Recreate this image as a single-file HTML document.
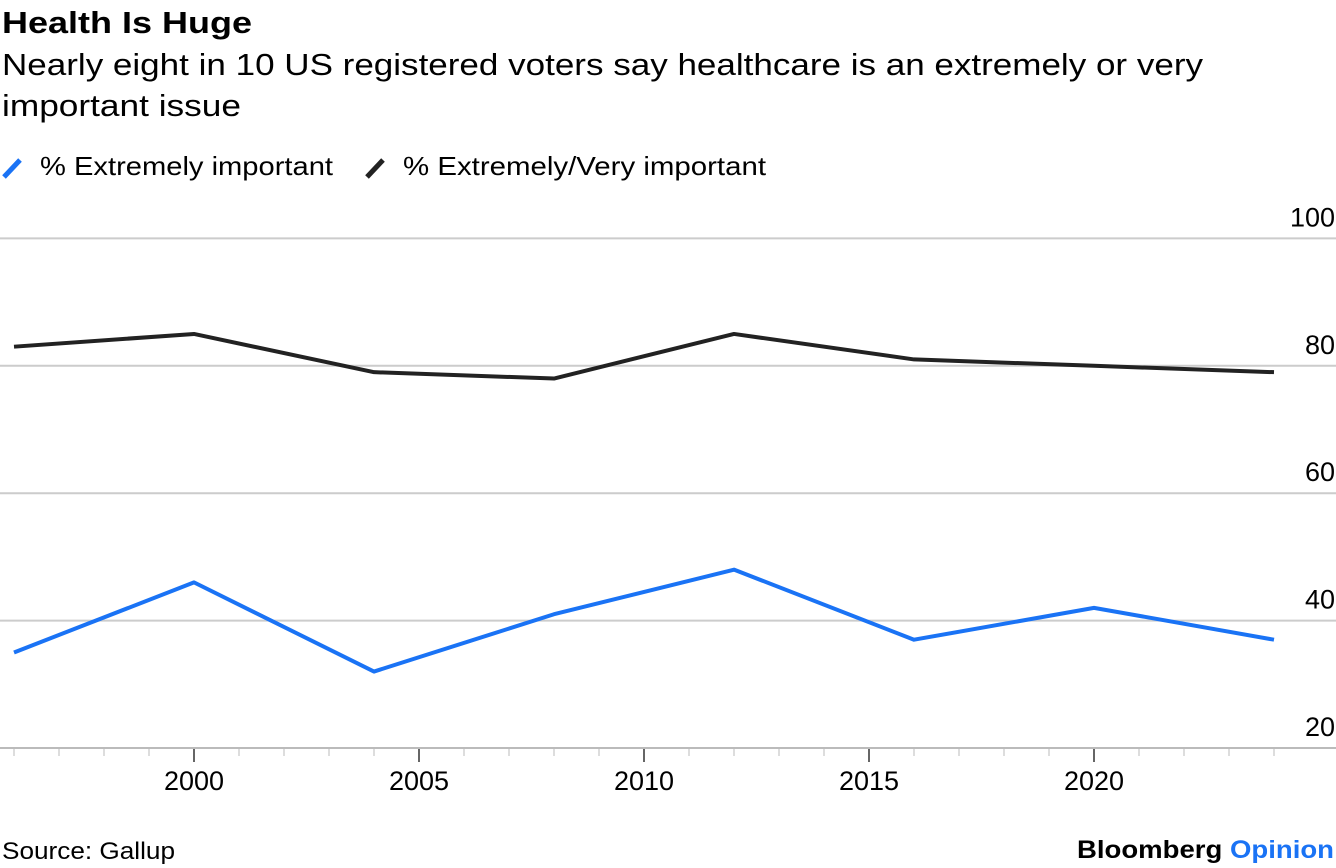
<!DOCTYPE html>
<html><head><meta charset="utf-8"><style>
body{margin:0;background:#fff;font-family:"Liberation Sans",sans-serif;}
svg{display:block}
</style></head><body>
<svg width="1336" height="868">
<text x="2" y="33" font-size="31" font-weight="bold" fill="#000" textLength="250" lengthAdjust="spacingAndGlyphs">Health Is Huge</text>
<text x="2" y="75" font-size="31" fill="#000" textLength="1201" lengthAdjust="spacingAndGlyphs">Nearly eight in 10 US registered voters say healthcare is an extremely or very</text>
<text x="2" y="116" font-size="31" fill="#000" textLength="239" lengthAdjust="spacingAndGlyphs">important issue</text>
<g>
<line x1="4" y1="177" x2="20" y2="160" stroke="#1a73f5" stroke-width="5"/>
<text x="40" y="175" font-size="26" textLength="293" lengthAdjust="spacingAndGlyphs">% Extremely important</text>
<line x1="367" y1="177" x2="383" y2="160" stroke="#222" stroke-width="5"/>
<text x="403" y="175" font-size="26" textLength="363" lengthAdjust="spacingAndGlyphs">% Extremely/Very important</text>
</g>
<g id="grid"></g><g id="xaxis"></g><g id="series"></g>
<text x="2" y="859" font-size="24" textLength="173" lengthAdjust="spacingAndGlyphs">Source: Gallup</text>
<text x="1077" y="858" font-size="25" font-weight="bold" textLength="257" lengthAdjust="spacingAndGlyphs">Bloomberg <tspan fill="#1a73f5">Opinion</tspan></text>
</svg>
<script>
const years=[1996,2000,2004,2008,2012,2016,2020,2024];
const extremely=[35,46,32,41,48,37,42,37];
const extremelyVery=[83,85,79,78,85,81,80,79];
const yTicks=[20,40,60,80,100];
const xTicks=[2000,2005,2010,2015,2020];
const NS="http://www.w3.org/2000/svg";
const x=v=>14+(v-1996)*45;
const y=v=>748-(v-20)*6.37;
function mk(t,a,p){const e=document.createElementNS(NS,t);for(const k in a)e.setAttribute(k,a[k]);p.appendChild(e);return e;}
const g=document.getElementById('grid');
yTicks.forEach(t=>{
 const l=mk('line',{x1:0,x2:1336,y1:y(t),y2:y(t),stroke:t===20?'#bbb':'#ccc','stroke-width':2},g);
 
 
 const tx=mk('text',{x:1335,y:y(t)-12,'text-anchor':'end','font-size':27},g);
 tx.textContent=t;
 
 
});
const xa=document.getElementById('xaxis');
for(let yr=1996;yr<=2024;yr++){
 const major=xTicks.includes(yr);
 const l=mk('line',{x1:x(yr),x2:x(yr),y1:749,y2:major?762:756,stroke:major?'#333':'#bbb','stroke-width':major?1.5:1},xa);
 
 
}
xTicks.forEach(t=>{
 const tx=mk('text',{x:x(t),y:790,'text-anchor':'middle','font-size':27},xa);
 tx.textContent=t;
 
 
});
const s=document.getElementById('series');
const p1=mk('polyline',{points:years.map((yr,i)=>x(yr)+','+y(extremelyVery[i])).join(' '),fill:'none',stroke:'#222','stroke-width':4,'stroke-linejoin':'round'},s);


const p2=mk('polyline',{points:years.map((yr,i)=>x(yr)+','+y(extremely[i])).join(' '),fill:'none',stroke:'#1a73f5','stroke-width':4,'stroke-linejoin':'round'},s);


</script>
</body></html>
